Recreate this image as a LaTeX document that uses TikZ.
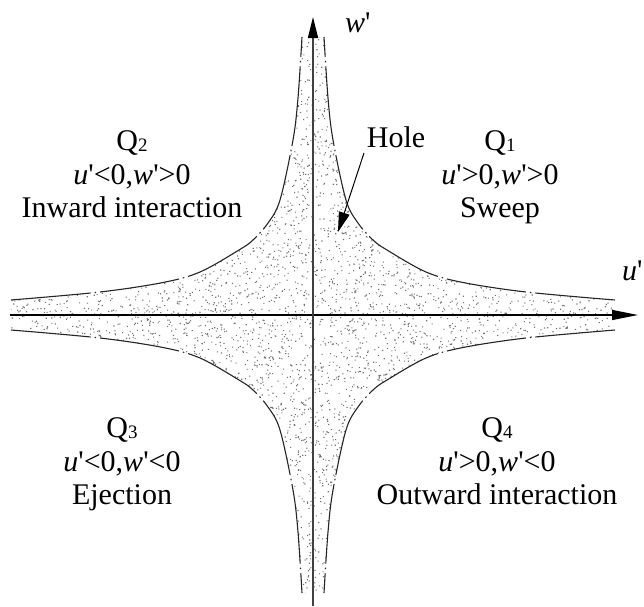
\documentclass[tikz,border=0pt]{standalone}
\usepackage{fontspec}
\setmainfont{Liberation Serif}
\usetikzlibrary{arrows.meta}
\newcommand\qsub[1]{{\fontsize{19pt}{19pt}\selectfont\raisebox{-1.5pt}{#1}}}
\newcommand\qt{\textquotesingle{}}
\tikzset{
  lbl/.style={anchor=base, inner sep=0pt},
  holeline/.style={line width=1.1pt, black!85, dash pattern=on 80pt off 4pt on 1.5pt off 4pt},
  axisline/.style={line width=1.1pt, black},
  dotcol/.style={fill=black!55}
}
\begin{document}
\begin{tikzpicture}[x=1pt, y=1pt, font=\fontsize{30pt}{33pt}\selectfont]
\useasboundingbox (-313,-291) rectangle (331,315);
\fill[white] (-313,-291) rectangle (331,315);
% stippled hole region and its boundary, one quadrant at a time
\pgfmathsetseed{7}
\foreach \sx/\sy in {1/1,-1/1,-1/-1,1/-1} {
  \begin{scope}[xscale=\sx, yscale=\sy]
    \begin{scope}
      \clip (0,0) -- (302,0) -- plot[smooth,tension=0.55] coordinates {(302,15) (213,23) (150,32.5) (113,43) (74,65) (60,75) (45,92) (33,115) (20,175) (15,217) (11,278)} -- (0,278) -- cycle;
      \fill[dotcol] foreach \i in {1,...,850} { ({302*rnd},{80*rnd}) rectangle ++(1.1,1.1) };
      \fill[dotcol] foreach \i in {1,...,560} { ({80*rnd},{80+200*rnd}) rectangle ++(1.1,1.1) };
    \end{scope}
    \draw[holeline] plot[smooth,tension=0.55] coordinates {(302,15) (213,23) (150,32.5) (113,43) (74,65) (60,75) (45,92) (33,115) (20,175) (15,217) (11,278)};
  \end{scope}
}
% axes
\coordinate (xl) at (-303,0);
\coordinate (xr) at (325,0);
\coordinate (yb) at (0,-291);
\coordinate (yt) at (0,298);
\draw[axisline, -{Triangle[length=26pt,width=10pt]}] (xl) -- (xr);
\draw[line width=1.4pt, black!75, -{Triangle[length=21pt,width=10pt,color=black]}] (yb) -- (yt);
\node[anchor=base west, inner sep=0pt] (ulab) at (309,35) {\textit{u}\qt};
\node[anchor=base west, inner sep=0pt] (wlab) at (32,283) {\textit{w}\qt};
% quadrant labels
\node[lbl] (q1a) at (187,165) {Q\qsub{1}};
\node[lbl] (q1b) at (187,131) {\textit{u}\qt>0,\textit{w}\qt>0};
\node[lbl] (q1c) at (187,98) {Sweep};
\node[lbl] (q2a) at (-181,165) {Q\qsub{2}};
\node[lbl] (q2b) at (-181,131) {\textit{u}\qt<0,\textit{w}\qt>0};
\node[lbl] (q2c) at (-181,98) {Inward interaction};
\node[lbl] (q3a) at (-191,-122) {Q\qsub{3}};
\node[lbl] (q3b) at (-191,-156) {\textit{u}\qt<0,\textit{w}\qt<0};
\node[lbl] (q3c) at (-191,-189) {Ejection};
\node[lbl] (q4a) at (184,-122) {Q\qsub{4}};
\node[lbl] (q4b) at (184,-156) {\textit{u}\qt>0,\textit{w}\qt<0};
\node[lbl] (q4c) at (184,-189) {Outward interaction};
% hole label and arrow
\node[lbl] (hole) at (83,168) {Hole};
\coordinate (hs) at (51,162);
\coordinate (ht) at (25,83);
\draw[line width=1pt, -{Triangle[length=20pt,width=11pt]}] (hs) -- (ht);
\end{tikzpicture}
\end{document}
